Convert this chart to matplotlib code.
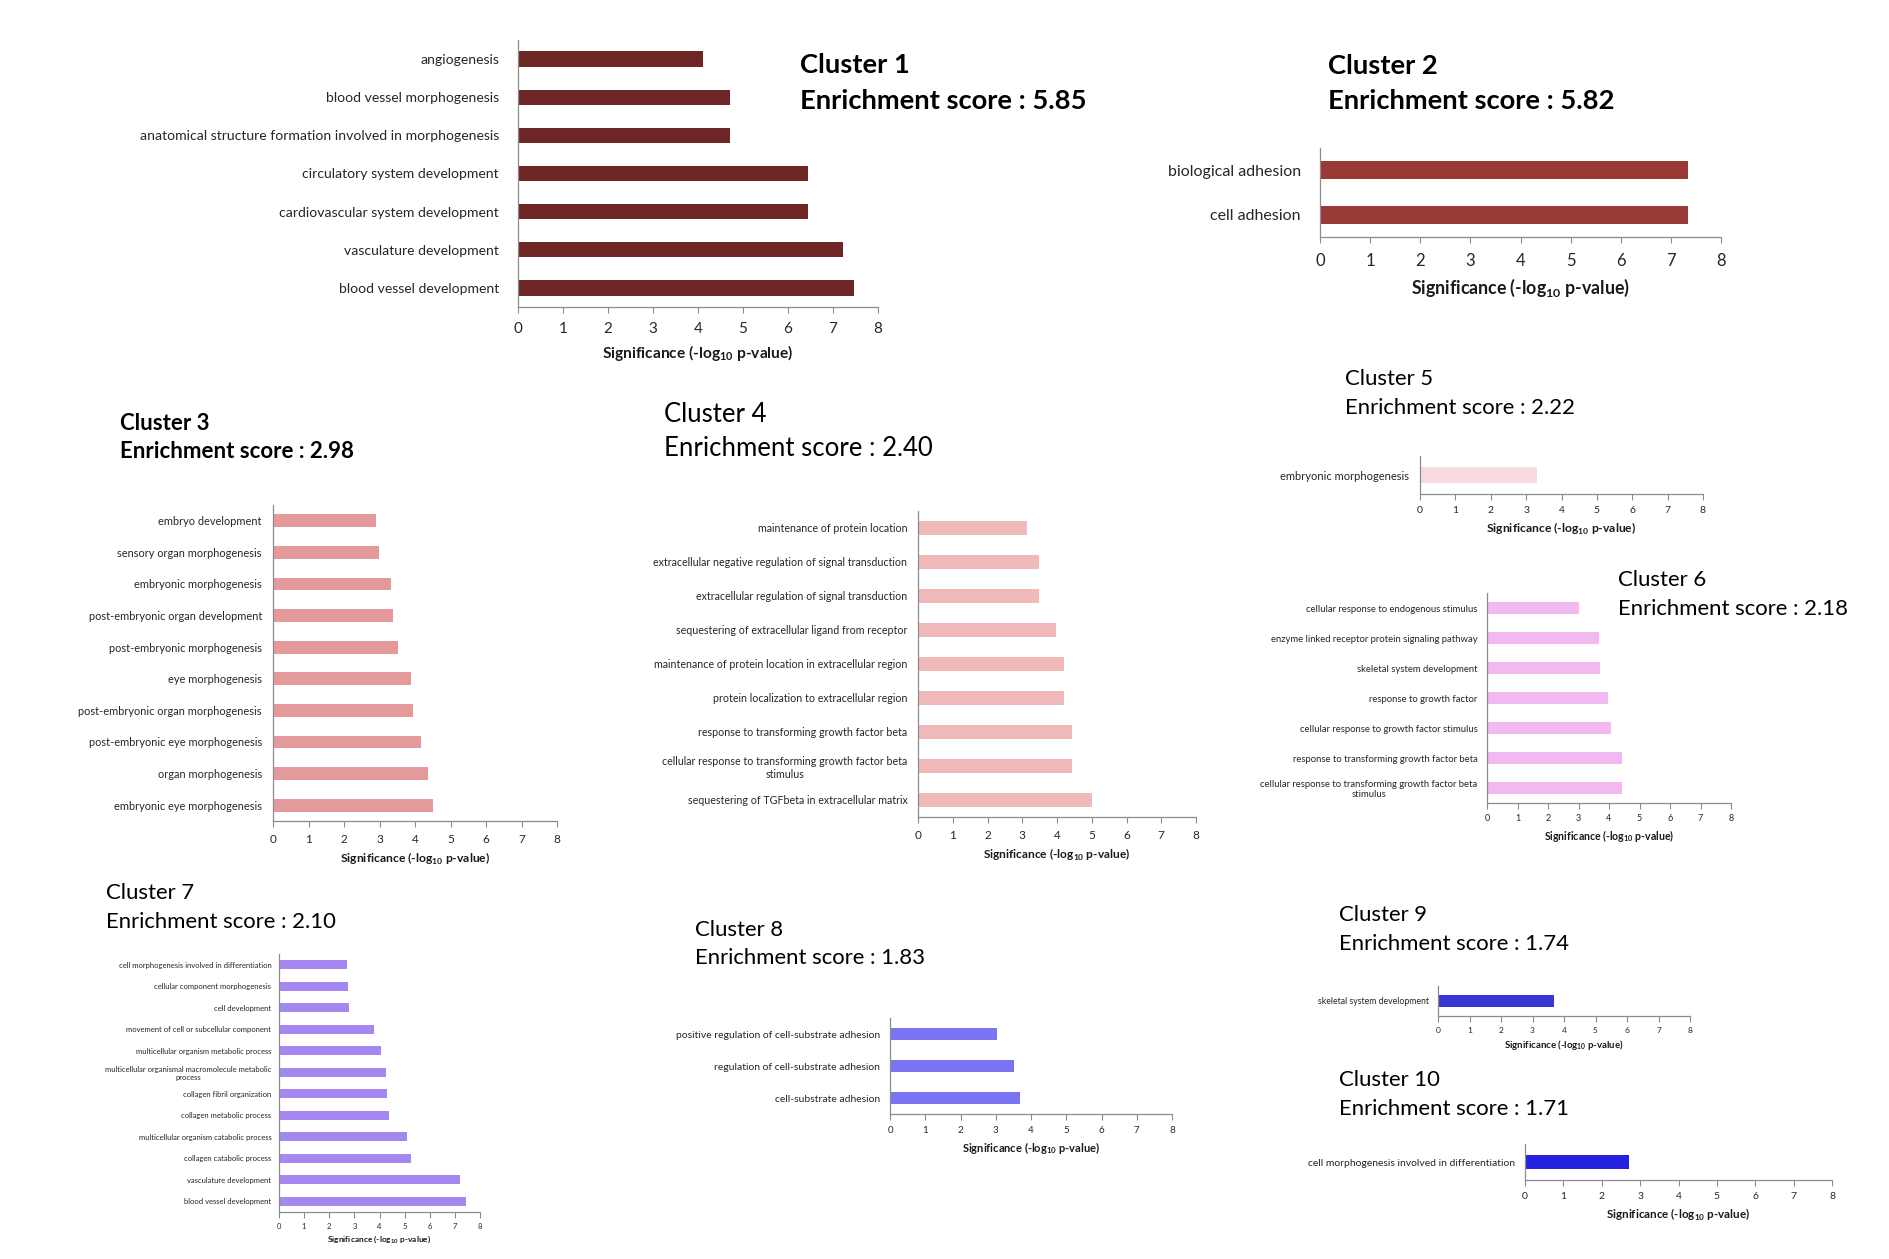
import numpy as np
import matplotlib.pyplot as plt

plt.rcParams['font.family'] = ['Lato', 'DejaVu Sans']
plt.rcParams['mathtext.fontset'] = 'custom'
plt.rcParams['mathtext.rm'] = 'Lato'
plt.rcParams['mathtext.bf'] = 'Lato:bold'

# ---- data (terms listed top to bottom, -log10 p-values) ----
c1_terms = ["angiogenesis", "blood vessel morphogenesis",
            "anatomical structure formation involved in morphogenesis",
            "circulatory system development", "cardiovascular system development",
            "vasculature development", "blood vessel development"]
c1_vals = [4.12, 4.70, 4.71, 6.44, 6.44, 7.22, 7.46]

c2_terms = ["biological adhesion", "cell adhesion"]
c2_vals = [7.34, 7.35]

c3_terms = ["embryo development", "sensory organ morphogenesis", "embryonic morphogenesis",
            "post-embryonic organ development", "post-embryonic morphogenesis",
            "eye morphogenesis", "post-embryonic organ morphogenesis",
            "post-embryonic eye morphogenesis", "organ morphogenesis",
            "embryonic eye morphogenesis"]
c3_vals = [2.89, 2.99, 3.32, 3.37, 3.53, 3.89, 3.95, 4.18, 4.38, 4.51]

c4_terms = ["maintenance of protein location",
            "extracellular negative regulation of signal transduction",
            "extracellular regulation of signal transduction",
            "sequestering of extracellular ligand from receptor",
            "maintenance of protein location in extracellular region",
            "protein localization to extracellular region",
            "response to transforming growth factor beta",
            "cellular response to transforming growth factor beta\nstimulus",
            "sequestering of TGFbeta in extracellular matrix"]
c4_vals = [3.15, 3.49, 3.48, 3.96, 4.19, 4.19, 4.42, 4.44, 5.01]

c5_terms = ["embryonic morphogenesis"]
c5_vals = [3.32]

c6_terms = ["cellular response to endogenous stimulus",
            "enzyme linked receptor protein signaling pathway",
            "skeletal system development", "response to growth factor",
            "cellular response to growth factor stimulus",
            "response to transforming growth factor beta",
            "cellular response to transforming growth factor beta\nstimulus"]
c6_vals = [3.02, 3.66, 3.70, 3.96, 4.07, 4.43, 4.44]

c7_terms = ["cell morphogenesis involved in differentiation",
            "cellular component morphogenesis", "cell development",
            "movement of cell or subcellular component",
            "multicellular organism metabolic process",
            "multicellular organismal macromolecule metabolic\nprocess",
            "collagen fibril organization", "collagen metabolic process",
            "multicellular organism catabolic process", "collagen catabolic process",
            "vasculature development", "blood vessel development"]
c7_vals = [2.69, 2.73, 2.77, 3.77, 4.05, 4.27, 4.28, 4.36, 5.08, 5.27, 7.21, 7.43]

c8_terms = ["positive regulation of cell-substrate adhesion",
            "regulation of cell-substrate adhesion", "cell-substrate adhesion"]
c8_vals = [3.04, 3.53, 3.70]

c9_terms = ["skeletal system development"]
c9_vals = [3.68]

c10_terms = ["cell morphogenesis involved in differentiation"]
c10_vals = [2.70]

scores = ["5.85", "5.82", "2.98", "2.40", "2.22", "2.18", "2.10", "1.83", "1.74", "1.71"]

W, H = 1889, 1259
fig = plt.figure(figsize=(W / 100, H / 100), dpi=100)
XLABEL = r"Significance (-log$_{\mathbf{10}}$ p-value)"


def add_panel(box, terms, vals, color, label_fs, tick_fs, xlabel_fs, lpad=1.0):
    # box = (left, top, right, bottom) in pixels
    left, top, right, bottom = box
    ax = fig.add_axes([left / W, 1 - bottom / H, (right - left) / W, (bottom - top) / H])
    y = np.arange(len(terms))
    ax.barh(y, vals, height=0.4, color=color)
    ax.set_yticks(y, terms, fontsize=label_fs, color="#262626")
    for t in ax.get_yticklabels():
        t.set_multialignment("center")
    ax.set_ylim(len(terms) - 0.5, -0.5)
    ax.set_xlim(0, 8)
    ax.set_xticks(range(9))
    ax.tick_params(axis="x", labelsize=tick_fs, length=4, width=0.8, color="#8c8c8c",
                   labelcolor="#262626", pad=0.65 * tick_fs)
    ax.tick_params(axis="y", length=0, pad=lpad * label_fs)
    for s in ["top", "right"]:
        ax.spines[s].set_visible(False)
    for s in ["left", "bottom"]:
        ax.spines[s].set_color("#8c8c8c")
        ax.spines[s].set_linewidth(0.9)
    ax.set_xlabel(XLABEL, fontsize=xlabel_fs, fontweight="bold", color="#1a1a1a",
                  labelpad=0.45 * xlabel_fs)
    return ax


def add_title(n, x, y1, y2, size, bold):
    w = "bold" if bold else "normal"
    fig.text(x / W, 1 - y1 / H, f"Cluster {n}", fontsize=size, fontweight=w,
             ha="left", va="center", color="black")
    fig.text(x / W, 1 - y2 / H, f"Enrichment score : {scores[n - 1]}", fontsize=size,
             fontweight=w, ha="left", va="center", color="black")


add_panel((518, 40, 878, 307), c1_terms, c1_vals, "#6E2624", 10.1, 11, 11.2, 1.35)
add_title(1, 800, 65, 101, 19.7, True)

add_panel((1320, 148, 1721, 237), c2_terms, c2_vals, "#993A37", 11.5, 12, 12.8, 1.2)
add_title(2, 1328, 66, 101, 19.7, True)

add_panel((273, 505, 557, 821), c3_terms, c3_vals, "#E49A9A", 7.95, 8.5, 8.7)
add_title(3, 120, 423, 452, 16, True)

add_panel((918, 511, 1196, 817), c4_terms, c4_vals, "#F0BABB", 7.7, 8.5, 8.6)
add_title(4, 664, 414, 448, 18.5, False)

add_panel((1420, 456, 1703, 494), c5_terms, c5_vals, "#F8DADC", 8.0, 7.5, 8.7)
add_title(5, 1345, 379, 408, 15.9, False)

add_panel((1487, 593, 1731, 803), c6_terms, c6_vals, "#F1B8F1", 6.85, 6.5, 7.6)
add_title(6, 1618, 580, 609, 15.9, False)

add_panel((279, 954, 480, 1212), c7_terms, c7_vals, "#A488F0", 5.5, 5.5, 6.05)
add_title(7, 106, 893, 922, 15.9, False)

add_panel((890, 1018, 1172, 1114), c8_terms, c8_vals, "#7B74F2", 7.45, 7, 8.05)
add_title(8, 695, 930, 958, 15.9, False)

add_panel((1438, 986, 1690, 1016), c9_terms, c9_vals, "#3A36D6", 6.3, 6, 6.9)
add_title(9, 1339, 915, 944, 15.9, False)

add_panel((1525, 1144, 1832, 1180), c10_terms, c10_vals, "#2222E0", 7.5, 7.5, 8.4)
add_title(10, 1339, 1080, 1109, 15.9, False)

fig.savefig("out.png", dpi=100, facecolor="white")
